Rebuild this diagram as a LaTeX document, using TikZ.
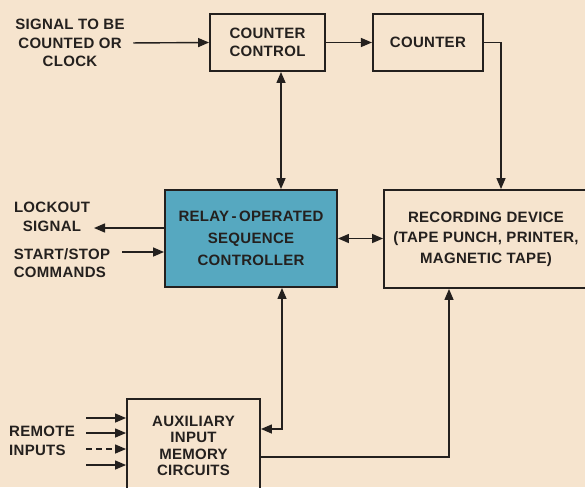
\documentclass[tikz,border=0pt]{standalone}
\usepackage{fontspec}
\setmainfont{Liberation Sans}[LetterSpace=2]
\usetikzlibrary{arrows.meta, positioning}
\definecolor{paper}{RGB}{246,228,206}
\definecolor{ink}{RGB}{36,32,30}
\definecolor{relayblue}{RGB}{86,168,192}

\begin{document}
\begin{tikzpicture}[
	x=1pt, y=-1pt,
	arr/.style={-{Triangle[length=11pt,width=9pt]}},
	darr/.style={{Triangle[length=11pt,width=9pt]}-{Triangle[length=11pt,width=9pt]}},
	line width=1.4pt,
	draw=ink, text=ink,
	font=\fontsize{15}{18.5}\selectfont\bfseries,
	block/.style={draw, line width=1.9pt, align=center, inner sep=0pt},
	lbl/.style={align=center, inner sep=2pt},
	remdash/.style={dash pattern=on 6pt off 4pt}
]
\clip (0,0) rectangle (585,487);
\fill[paper] (0,0) rectangle (585,487);

% boxes
\node[block, minimum width=115, minimum height=57] (cc) at (267.5,42.5) {COUNTER\\CONTROL};
\node[block, minimum width=110, minimum height=57, right=46pt of cc] (cnt) {COUNTER};
\node[block, fill=relayblue, minimum width=172, minimum height=97,
	font=\fontsize{15}{22}\selectfont\bfseries] (seq) at (251,238.5) {RELAY\,-\,OPERATED\\SEQUENCE\\CONTROLLER};
\node[block, minimum width=204, minimum height=98,
	font=\fontsize{15}{20.5}\selectfont\bfseries] (rec) at (486,239) {RECORDING DEVICE\\(TAPE PUNCH, PRINTER,\\MAGNETIC TAPE)};
\node[block, minimum width=133, minimum height=94,
	font=\fontsize{15}{16.5}\selectfont\bfseries] (aux) at (193.5,446) {AUXILIARY\\INPUT\\MEMORY\\CIRCUITS};

% outside labels
\node[lbl] (sig) at (70,43) {SIGNAL TO BE\\COUNTED OR\\CLOCK};
\node[lbl] (lock) at (52,217) {LOCKOUT\\SIGNAL};
\node[lbl, align=left] (start) at (62,263) {START/STOP\\COMMANDS};
\node[lbl, align=left] (remote) at (42,441) {REMOTE\\INPUTS};

\coordinate (lockin) at (94,228);
\coordinate (startout) at (122,252);

% connectors
\draw[arr, shorten <=6pt] (sig.east) -- (cc.west);
\draw[arr] (cc) -- (cnt);
\draw[arr] (cnt.east) -| ([xshift=15pt]rec.north);
\draw[darr] ([xshift=13.5pt]cc.south) -- ([xshift=30pt]seq.north);
\draw[darr] (seq.east) -- (seq.east -| rec.west);
\draw[darr] ([xshift=31pt]seq.south) |- ([yshift=17pt]aux.east);
\draw[arr] ([yshift=-11pt]aux.east) -| ([xshift=-37pt]rec.south);
\draw[arr] ([yshift=10.5pt]seq.west) -- (lockin);
\draw[arr] (startout) -- (startout -| seq.west);
\foreach \n/\y/\s in {1/418/solid,2/433/solid,3/449/remdash,4/465/solid}
	{\coordinate (r\n) at (86,\y);
	 \draw[arr,\s] (r\n) -- (r\n -| aux.west);}
\end{tikzpicture}
\end{document}
